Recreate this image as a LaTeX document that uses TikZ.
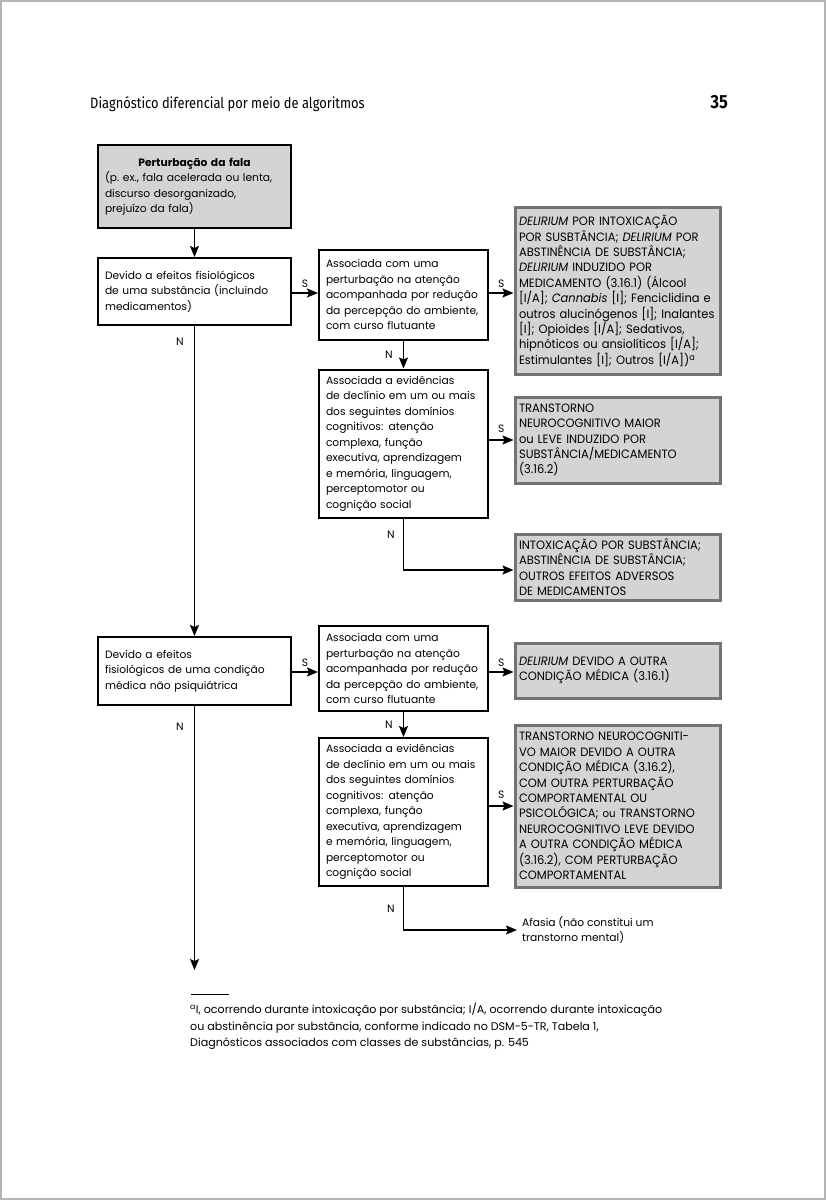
\documentclass[tikz,border=0pt]{standalone}
\usepackage{fontspec}
\setmainfont{Poppins}
\newfontfamily\cabecalho[FakeStretch=0.86]{Fira Sans}
\usetikzlibrary{arrows.meta}
\definecolor{cinzafundo}{HTML}{D4D4D4}
\definecolor{cinzaborda}{HTML}{737373}
\definecolor{cinzapagina}{HTML}{B4B4B4}
\newcommand{\corpo}{\fontsize{10.7}{15.5}\selectfont}
\newcommand{\versal}{\fontsize{12.1}{15.4}\selectfont\addfontfeatures{FakeStretch=0.95}}

\begin{document}
\begin{tikzpicture}[x=1pt, y=-1pt,
    caixa/.style={rectangle, draw, line width=2pt, fill=white, text width=#1, align=left, inner xsep=7pt, inner ysep=0pt, font=\corpo},
    caixa/.default=155pt,
    inicio/.style={caixa=179pt, fill=cinzafundo},
    resultado/.style={rectangle, draw=cinzaborda, line width=3pt, fill=cinzafundo, text width=197pt, align=left, inner xsep=4pt, inner ysep=0pt, font=\versal},
    seta/.style={-{Stealth[length=11pt,width=9pt,inset=2pt]}, line width=1.5pt},
    rotulo/.style={font=\corpo, inner sep=2pt},
    sim/.style={rotulo, above, yshift=3pt},
    nao/.style={rotulo, left, xshift=-8pt}
]
    \useasboundingbox (0,0) rectangle (826,1200);
    \draw[cinzapagina, line width=2pt] (1,1) rectangle (825,1199);

    % cabecalho da pagina
    \node[anchor=base west, inner sep=0pt, font=\cabecalho\fontsize{15}{17}\selectfont] (titulo) at (90,108) {Diagnóstico diferencial por meio de algoritmos};
    \node[anchor=base east, inner sep=0pt, font=\cabecalho\bfseries\fontsize{19}{21}\selectfont] (pagina) at (728,108) {35};

    % coluna da esquerda
    \node[inicio, minimum height=83pt] (fala) at (194.5,186.5) {\makebox[\hsize][c]{\bfseries Perturbação da fala}\\ (p.~ex., fala acelerada ou lenta,\\ discurso desorganizado,\\ prejuízo da fala)};
    \node[caixa=179pt, minimum height=67pt] (substancia) at (194.5,291.5) {Devido a efeitos fisiológicos\\ de uma substância (incluindo\\ medicamentos)};
    \node[caixa=179pt, minimum height=68pt] (condicao) at (194.5,671) {Devido a efeitos\\ fisiológicos de uma condição\\ médica não psiquiátrica};
    \coordinate (fim) at (194.5,970);

    % ramo da substancia
    \node[caixa, minimum height=90pt] (atencaoA) at (403.5,294.5) {Associada com uma\\ perturbação na atenção\\ acompanhada por redução\\ da percepção do ambiente,\\ com curso flutuante};
    \node[caixa, minimum height=148pt] (declinioA) at (403.5,443.5) {Associada a evidências\\ de declínio em um ou mais\\ dos seguintes domínios\\ cognitivos: atenção\\ complexa, função\\ executiva, aprendizagem\\ e memória, linguagem,\\ perceptomotor ou\\ cognição social};
    \node[resultado, minimum height=167pt] (deliriumA) at (617.5,291) {\textit{DELIRIUM} POR INTOXICAÇÃO\\ POR SUSBTÂNCIA; \textit{DELIRIUM} POR\\ ABSTINÊNCIA DE SUBSTÂNCIA;\\ \textit{DELIRIUM} INDUZIDO POR\\ MEDICAMENTO (3.16.1) (Álcool\\ {[}I/A{]}; \textit{Cannabis} [I]; Fenciclidina e\\ outros alucinógenos [I]; Inalantes\\ {[}I{]}; Opioides [I/A]; Sedativos,\\ hipnóticos ou ansiolíticos [I/A];\\ Estimulantes [I]; Outros [I/A])\textsuperscript{a}};
    \node[resultado, minimum height=86pt] (tncA) at (617.5,440) {TRANSTORNO\\ NEUROCOGNITIVO MAIOR\\ ou LEVE INDUZIDO POR\\ SUBSTÂNCIA/MEDICAMENTO\\ (3.16.2)};
    \node[resultado, minimum height=66pt] (intoxicacao) at (617.5,567) {INTOXICAÇÃO POR SUBSTÂNCIA;\\ ABSTINÊNCIA DE SUBSTÂNCIA;\\ OUTROS EFEITOS ADVERSOS\\ DE MEDICAMENTOS};

    % ramo da condicao medica
    \node[caixa, minimum height=85pt] (atencaoB) at (403.5,668.5) {Associada com uma\\ perturbação na atenção\\ acompanhada por redução\\ da percepção do ambiente,\\ com curso flutuante};
    \node[caixa, minimum height=148pt] (declinioB) at (403.5,812) {Associada a evidências\\ de declínio em um ou mais\\ dos seguintes domínios\\ cognitivos: atenção\\ complexa, função\\ executiva, aprendizagem\\ e memória, linguagem,\\ perceptomotor ou\\ cognição social};
    \node[resultado, minimum height=55pt] (deliriumB) at (617.5,670.5) {\textit{DELIRIUM} DEVIDO A OUTRA\\ CONDIÇÃO MÉDICA (3.16.1)};
    \node[resultado, minimum height=162pt] (tncB) at (617.5,806) {TRANSTORNO NEUROCOGNITI-\\ VO MAIOR DEVIDO A OUTRA\\ CONDIÇÃO MÉDICA (3.16.2),\\ COM OUTRA PERTURBAÇÃO\\ COMPORTAMENTAL OU\\ PSICOLÓGICA; {\corpo ou} TRANSTORNO\\ NEUROCOGNITIVO LEVE DEVIDO\\ A OUTRA CONDIÇÃO MÉDICA\\ (3.16.2), COM PERTURBAÇÃO\\ COMPORTAMENTAL};
    \node[anchor=west, align=left, font=\corpo, inner sep=0pt] (afasia) at (522,930) {Afasia (não constitui um\\ transtorno mental)};

    % setas
    \draw[seta] (fala) -- (substancia);
    \draw[seta] (substancia.east |- 0,293) -- node[sim] {S} (atencaoA.west |- 0,293);
    \draw[seta] (atencaoA.east |- 0,293) -- node[sim] {S} (deliriumA.west |- 0,293);
    \draw[seta] (atencaoA) -- node[nao] {N} (declinioA);
    \draw[seta] (declinioA.east |- tncA.west) -- node[sim, yshift=2pt] {S} (tncA.west);
    \draw[seta] (declinioA.south) |- node[nao, pos=0.16, xshift=2pt] {N} ([yshift=-3pt]intoxicacao.west);
    \draw[seta] (substancia) -- node[nao, pos=0.05] {N} (condicao);
    \draw[seta] (condicao.east |- 0,672) -- node[sim] {S} (atencaoB.west |- 0,672);
    \draw[seta] (atencaoB.east |- 0,672) -- node[sim] {S} (deliriumB.west |- 0,672);
    \draw[seta] (atencaoB) -- node[nao] {N} (declinioB);
    \draw[seta] (declinioB.east |- 0,806) -- node[sim, yshift=2pt] {S} (tncB.west |- 0,806);
    \draw[seta] (declinioB.south) |- node[nao, pos=0.25, xshift=2pt] {N} ([xshift=-5pt]afasia.west);
    \draw[seta] (condicao) -- node[nao, pos=0.08] {N} (fim);

    % nota de rodape
    \draw[line width=1pt] (191,994) -- (229,994);
    \node[anchor=north west, align=left, font=\fontsize{11.1}{16.5}\selectfont, inner sep=0pt] (nota) at (190,1003) {\textsuperscript{a}I, ocorrendo durante intoxicação por substância; I/A, ocorrendo durante intoxicação\\ ou abstinência por substância, conforme indicado no DSM-5-TR, Tabela 1,\\ Diagnósticos associados com classes de substâncias, p. 545};
\end{tikzpicture}
\end{document}
